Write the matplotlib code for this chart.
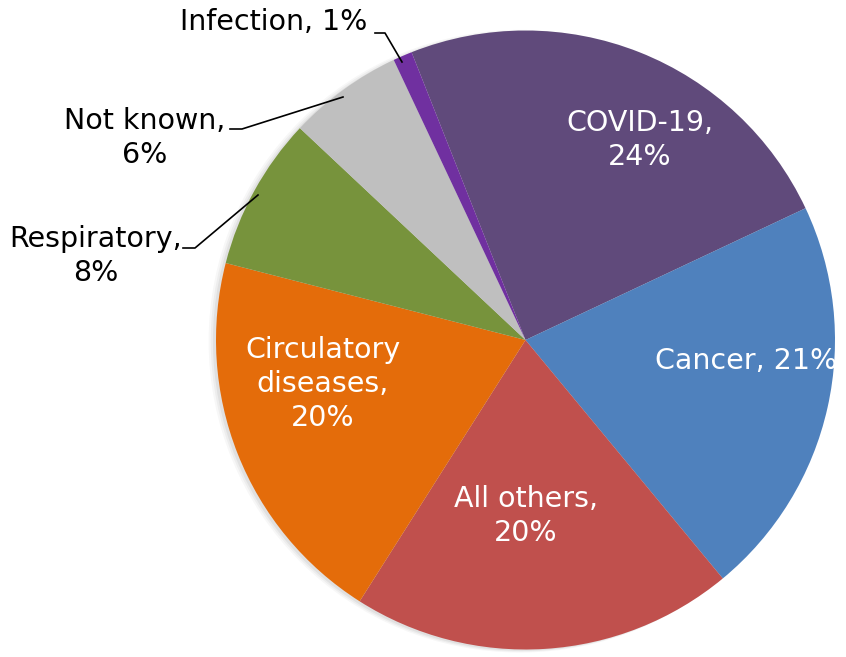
import matplotlib
matplotlib.use("Agg")
import matplotlib.pyplot as plt
from matplotlib.patches import Circle

categories = ["COVID-19", "Cancer", "All others", "Circulatory\ndiseases", "Respiratory", "Not known", "Infection"]
values = [24, 21, 20, 20, 8, 6, 1]
colors = ["#604A7B", "#4F81BD", "#C0504D", "#E46C0A", "#77933C", "#BFBFBF", "#7030A0"]

W, H = 846, 657
cx, cy, R = 525.5, 340.0, 309.5  # pixels

fig = plt.figure(figsize=(W / 100, H / 100), dpi=100)
ax = fig.add_axes([0, 0, 1, 1])

# soft shadow
for i, a in enumerate([0.05, 0.04, 0.03]):
    ax.add_patch(Circle((-0.010 - 0.004 * i, -0.004), 1.0 + 0.003 * i, color="black", alpha=a, lw=0, zorder=0))

wedges, _ = ax.pie(values, colors=colors, startangle=111.6, counterclock=False,
                   radius=1.0, center=(0, 0), frame=True,
                   wedgeprops=dict(linewidth=0, zorder=1))
ax.set_xlim(-cx / R, (W - cx) / R)
ax.set_ylim(-(H - cy) / R, cy / R)
ax.set_aspect("auto")
ax.axis("off")

def P(x, y):
    return ((x - cx) / R, (cy - y) / R)

font = "DejaVu Sans"
fs = 20.5
ls = 1.25

inside = [
    ("COVID-19,\n24%", 640, 140),
    ("Cancer, 21%", 746, 361),
    ("All others,\n20%", 526, 516),
    ("Circulatory\ndiseases,\n20%", 323, 384),
]
for txt, x, y in inside:
    t = ax.text(*P(x, y), txt, color="white", ha="center", va="center", fontsize=fs,
                family=font, linespacing=ls, zorder=5)
    t.set_clip_on(False)

outside = [
    ("Infection, 1%", 274, 22, [(375, 33), (385, 33), (402, 62)]),
    ("Not known,\n6%", 145, 138, [(230, 129), (242, 129), (343, 97)]),
    ("Respiratory,\n8%", 96, 256, [(183, 248), (195, 248), (258, 195)]),
]
for txt, x, y, pts in outside:
    ax.text(*P(x, y), txt, color="black", ha="center", va="center", fontsize=fs,
            family=font, linespacing=ls, zorder=5)
    xs, ys = zip(*[P(px, py) for px, py in pts])
    ax.plot(xs, ys, color="black", lw=1.2, zorder=4)

fig.savefig("out.png", dpi=100)
